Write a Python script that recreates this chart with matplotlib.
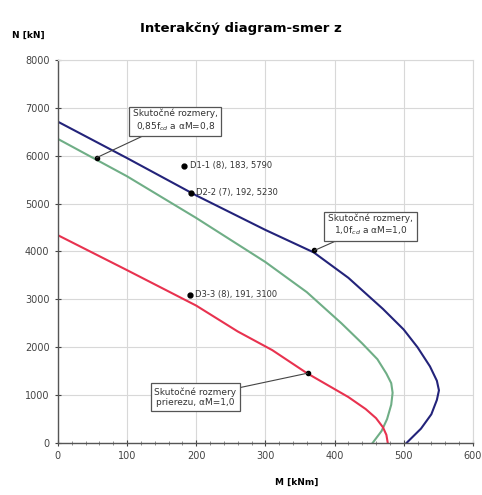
#!/usr/bin/env python3
"""Interaction diagram N-M, direction z (three capacity curves + design points)."""

import matplotlib
matplotlib.use("Agg")
import matplotlib.pyplot as plt
from matplotlib.ticker import MultipleLocator

# capacity curves, M [kNm] vs N [kN]
blue_m = [0, 100, 200, 300, 370, 420, 470, 500, 520, 538, 548, 551, 548, 540, 525, 504]
blue_n = [6710, 5950, 5170, 4450, 3980, 3450, 2800, 2370, 2000, 1600, 1300, 1100, 900, 600, 300, 0]

green_m = [0, 100, 200, 300, 360, 410, 440, 462, 475, 482, 484, 482, 476, 468, 455]
green_n = [6350, 5570, 4700, 3780, 3150, 2500, 2080, 1750, 1450, 1250, 1050, 800, 500, 250, 0]

red_m = [0, 100, 200, 260, 310, 360, 420, 445, 460, 470, 475, 477]
red_n = [4340, 3610, 2870, 2330, 1940, 1460, 960, 710, 520, 330, 170, 0]

# design points
pt_names = ["D1-1 (8), 183, 5790", "D2-2 (7), 192, 5230", "D3-3 (8), 191, 3100"]
pt_m = [183, 192, 191]
pt_n = [5790, 5230, 3100]

# callout boxes: text, box centre, point on curve
box_text = [
    "Skutočné rozmery,\n0,85f$_{cd}$ a αM=0,8",
    "Skutočné rozmery,\n1,0f$_{cd}$ a αM=1,0",
    "Skutočné rozmery\nprierezu, αM=1,0",
]
box_m = [170, 452, 199]
box_n = [6730, 4540, 960]
tip_m = [56, 371, 361]
tip_n = [5958, 4021, 1458]

fig = plt.figure(figsize=(4.82, 4.95), dpi=100)
ax = fig.add_axes([0.120, 0.105, 0.861, 0.774])

ax.plot(blue_m, blue_n, color="#23237a", lw=1.5)
ax.plot(green_m, green_n, color="#6fae86", lw=1.5)
ax.plot(red_m, red_n, color="#e8324f", lw=1.5)

ax.plot(pt_m, pt_n, "o", color="black", ms=3.5)
for name, m, n in zip(pt_names, pt_m, pt_n):
    ax.text(m + 8, n, name, fontsize=6, va="center", color="#333333")

for txt, bm, bn, tm, tn in zip(box_text, box_m, box_n, tip_m, tip_n):
    ax.plot([tm], [tn], "o", color="black", ms=3)
    ax.annotate(txt, xy=(tm, tn), xytext=(bm, bn), fontsize=6.5,
                ha="center", va="center", color="#333333",
                bbox=dict(boxstyle="square,pad=0.4", fc="white", ec="#555555", lw=0.9),
                arrowprops=dict(arrowstyle="-", color="#444444", lw=0.8,
                                shrinkA=0, shrinkB=0))

ax.set_xlim(0, 600)
ax.set_ylim(0, 8000)
ax.xaxis.set_major_locator(MultipleLocator(100))
ax.xaxis.set_minor_locator(MultipleLocator(20))
ax.yaxis.set_major_locator(MultipleLocator(1000))
ax.tick_params(axis="both", which="major", direction="inout", length=5,
               labelsize=7, colors="#444444", width=0.8)
ax.tick_params(axis="x", which="minor", direction="inout", length=3, color="#777777")
ax.grid(True, which="major", color="#d8d8d8", lw=0.8)
ax.set_axisbelow(True)

for side in ("top", "right"):
    ax.spines[side].set_color("#d8d8d8")
for side in ("left", "bottom"):
    ax.spines[side].set_color("#555555")
    ax.spines[side].set_linewidth(1.0)

fig.text(0.5, 0.943, "Interakčný diagram-smer z", ha="center", va="center",
         fontsize=9.5, fontweight="bold")
fig.text(0.025, 0.928, "N [kN]", ha="left", va="center", fontsize=6.5, fontweight="bold")
fig.text(0.615, 0.025, "M [kNm]", ha="center", va="center", fontsize=6.5, fontweight="bold")

fig.savefig("out.png", dpi=100)
